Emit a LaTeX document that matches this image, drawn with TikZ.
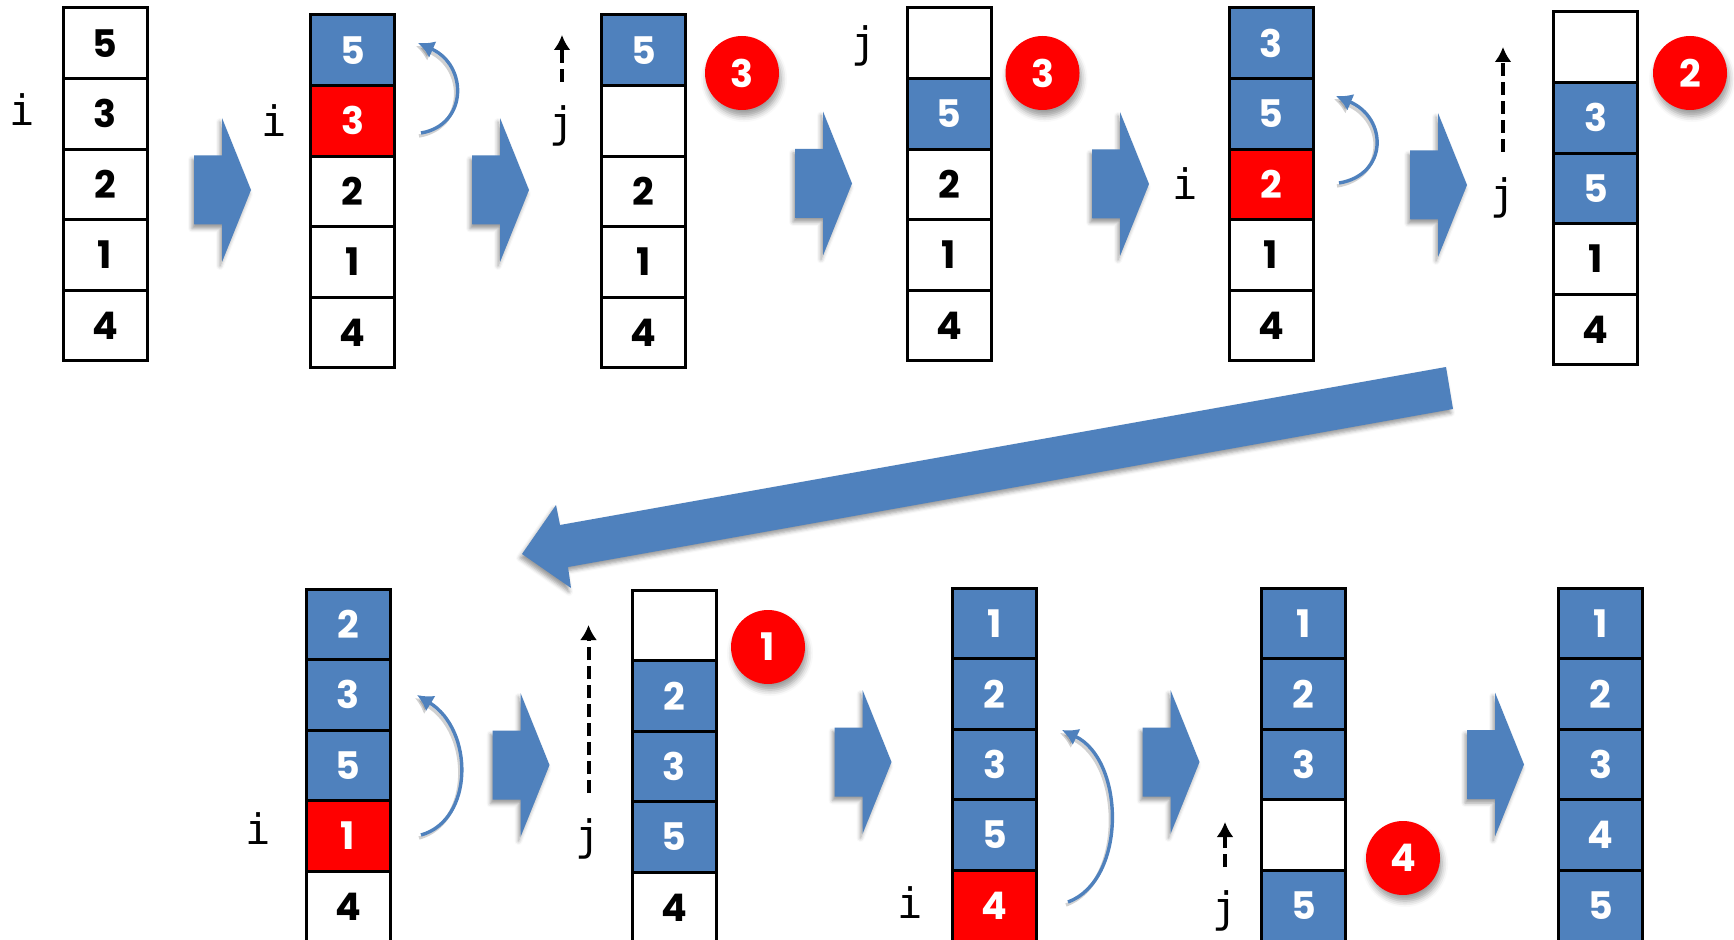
\documentclass[tikz,border=0pt]{standalone}
\usepackage{fontspec}
\newfontfamily\digitfont{Poppins}
\newfontfamily\varfont{DejaVu Sans Mono}
\usetikzlibrary{arrows.meta,shadows.blur}
\definecolor{cblue}{HTML}{4F81BD}
\definecolor{cred}{HTML}{FF0000}

\tikzset{
  cell/.style={draw=black, line width=1.5pt, minimum width=42pt, minimum height=35.3pt,
    inner sep=0pt, font=\digitfont\bfseries\fontsize{19}{19}\selectfont},
  cw/.style={fill=white, text=black},
  cb/.style={fill=cblue, text=white},
  cr/.style={fill=cred, text=white},
  ptr/.style={font=\varfont\fontsize{21}{21}\selectfont, inner sep=0pt},
  badge/.style={circle, fill=cred, minimum size=37pt, inner sep=0pt, text=white,
    font=\digitfont\bfseries\fontsize{19}{19}\selectfont,
    blur shadow={shadow xshift=1pt, shadow yshift=-3pt, shadow blur radius=3pt, shadow opacity=40}},
  stepfill/.style={fill=cblue,
    blur shadow={shadow xshift=-1pt, shadow yshift=-2pt, shadow blur radius=2pt, shadow opacity=40}},
  swaparrow/.style={draw=cblue, line width=1.7pt, -{Latex[length=8pt,width=9pt]},
    preaction={draw=black, opacity=.18, line width=1.7pt, transform canvas={xshift=-1pt,yshift=-1.5pt}}},
  scanarrow/.style={draw=black, line width=2pt, dash pattern=on 6.5pt off 3pt,
    -{Latex[length=7.5pt,width=8.5pt]}}
}

% one column of five cells: name, centre x, top y, list of style/value
\newcommand{\cellstack}[4]{%
  \foreach \st/\v [count=\k] in {#4}{
    \node[cell,\st] (#1-\k) at (#2,{#3+(\k-0.5)*70.6}) {\v};
  }
}
% block arrow between two steps: left x, centre y
\newcommand{\steparrow}[2]{%
  \fill[stepfill] (#1,#2-34.5) -- (#1+28,#2-34.5) -- (#1+28,#2-72) -- (#1+57,#2)
    -- (#1+28,#2+72) -- (#1+28,#2+34.5) -- (#1,#2+34.5) -- cycle;
}

\begin{document}
\begin{tikzpicture}[x=0.5pt, y=-0.5pt]
\useasboundingbox (0,0) rectangle (1734,940);
\clip (0,0) rectangle (1734,940);

% ---------- top row ----------
\cellstack{s1}{105}{8}{cw/5, cw/3, cw/2, cw/1, cw/4}
\node[ptr] (i1) at (22,110) {i};

\steparrow{194}{190}

\cellstack{s2}{352.5}{15}{cb/5, cr/3, cw/2, cw/1, cw/4}
\node[ptr] (i2) at (274,121) {i};
\coordinate (w2a) at (421,133);
\coordinate (w2b) at (418,43);
\draw[swaparrow] (w2a) .. controls (468,125) and (468,65) .. (w2b);

\steparrow{472}{190}

\cellstack{s3}{643.5}{15}{cb/5, cw/{}, cw/2, cw/1, cw/4}
\node[ptr] (j3) at (562,125.5) {j};
\coordinate (d3a) at (562,82);
\coordinate (d3b) at (562,35);
\draw[scanarrow] (d3a) -- (d3b);
\node[badge] (b3) at (742,73) {3};

\steparrow{795}{183.5}

\cellstack{s4}{949}{8}{cw/{}, cb/5, cw/2, cw/1, cw/4}
\node[ptr] (j4) at (864,46) {j};
\node[badge] (b4) at (1042.5,73) {3};

\steparrow{1092}{184}

\cellstack{s5}{1271}{8}{cb/3, cb/5, cr/2, cw/1, cw/4}
\node[ptr] (i5) at (1185,184) {i};
\coordinate (w5a) at (1339,183);
\coordinate (w5b) at (1336,96);
\draw[swaparrow] (w5a) .. controls (1388,175) and (1388,118) .. (w5b);

\steparrow{1410}{185}

\cellstack{s6}{1595.5}{12}{cw/{}, cb/3, cb/5, cw/1, cw/4}
\node[ptr] (j6) at (1503,197.5) {j};
\coordinate (d6a) at (1503,152);
\coordinate (d6b) at (1503,47);
\draw[scanarrow] (d6a) -- (d6b);
\node[badge] (b6) at (1690,73) {2};

% ---------- wrap-around arrow ----------
\fill[stepfill] (1446,367) -- (1453,409) -- (568,567) -- (571,588) -- (522,554)
  -- (556,505) -- (560,525) -- cycle;

% ---------- bottom row ----------
\cellstack{s7}{348}{589}{cb/2, cb/3, cb/5, cr/1, cw/4}
\node[ptr] (i7) at (258,829) {i};
\coordinate (w7a) at (421,835);
\coordinate (w7b) at (417,695);
\draw[swaparrow] (w7a) .. controls (474,820) and (474,730) .. (w7b);

\steparrow{492.5}{765}

\cellstack{s8}{674}{590}{cw/{}, cb/2, cb/3, cb/5, cw/4}
\node[ptr] (j8) at (588.5,839) {j};
\coordinate (d8a) at (588.5,793);
\coordinate (d8b) at (588.5,625);
\draw[scanarrow] (d8a) -- (d8b);
\node[badge] (b8) at (768,647) {1};

\steparrow{834.5}{762}

\cellstack{s9}{994.5}{588}{cb/1, cb/2, cb/3, cb/5, cr/4}
\node[ptr] (i9) at (910,902.5) {i};
\coordinate (w9a) at (1068,902);
\coordinate (w9b) at (1062,730);
\draw[swaparrow] (w9a) .. controls (1127,880) and (1125,760) .. (w9b);

\steparrow{1142.5}{762}

\cellstack{s10}{1303.5}{588}{cb/1, cb/2, cb/3, cw/{}, cb/5}
\node[ptr] (j10) at (1225,911) {j};
\coordinate (d10a) at (1225,867);
\coordinate (d10b) at (1225,822);
\draw[scanarrow] (d10a) -- (d10b);
\node[badge] (b10) at (1403,858) {4};

\steparrow{1467}{764.5}

\cellstack{s11}{1600.5}{588}{cb/1, cb/2, cb/3, cb/4, cb/5}
\end{tikzpicture}
\end{document}
